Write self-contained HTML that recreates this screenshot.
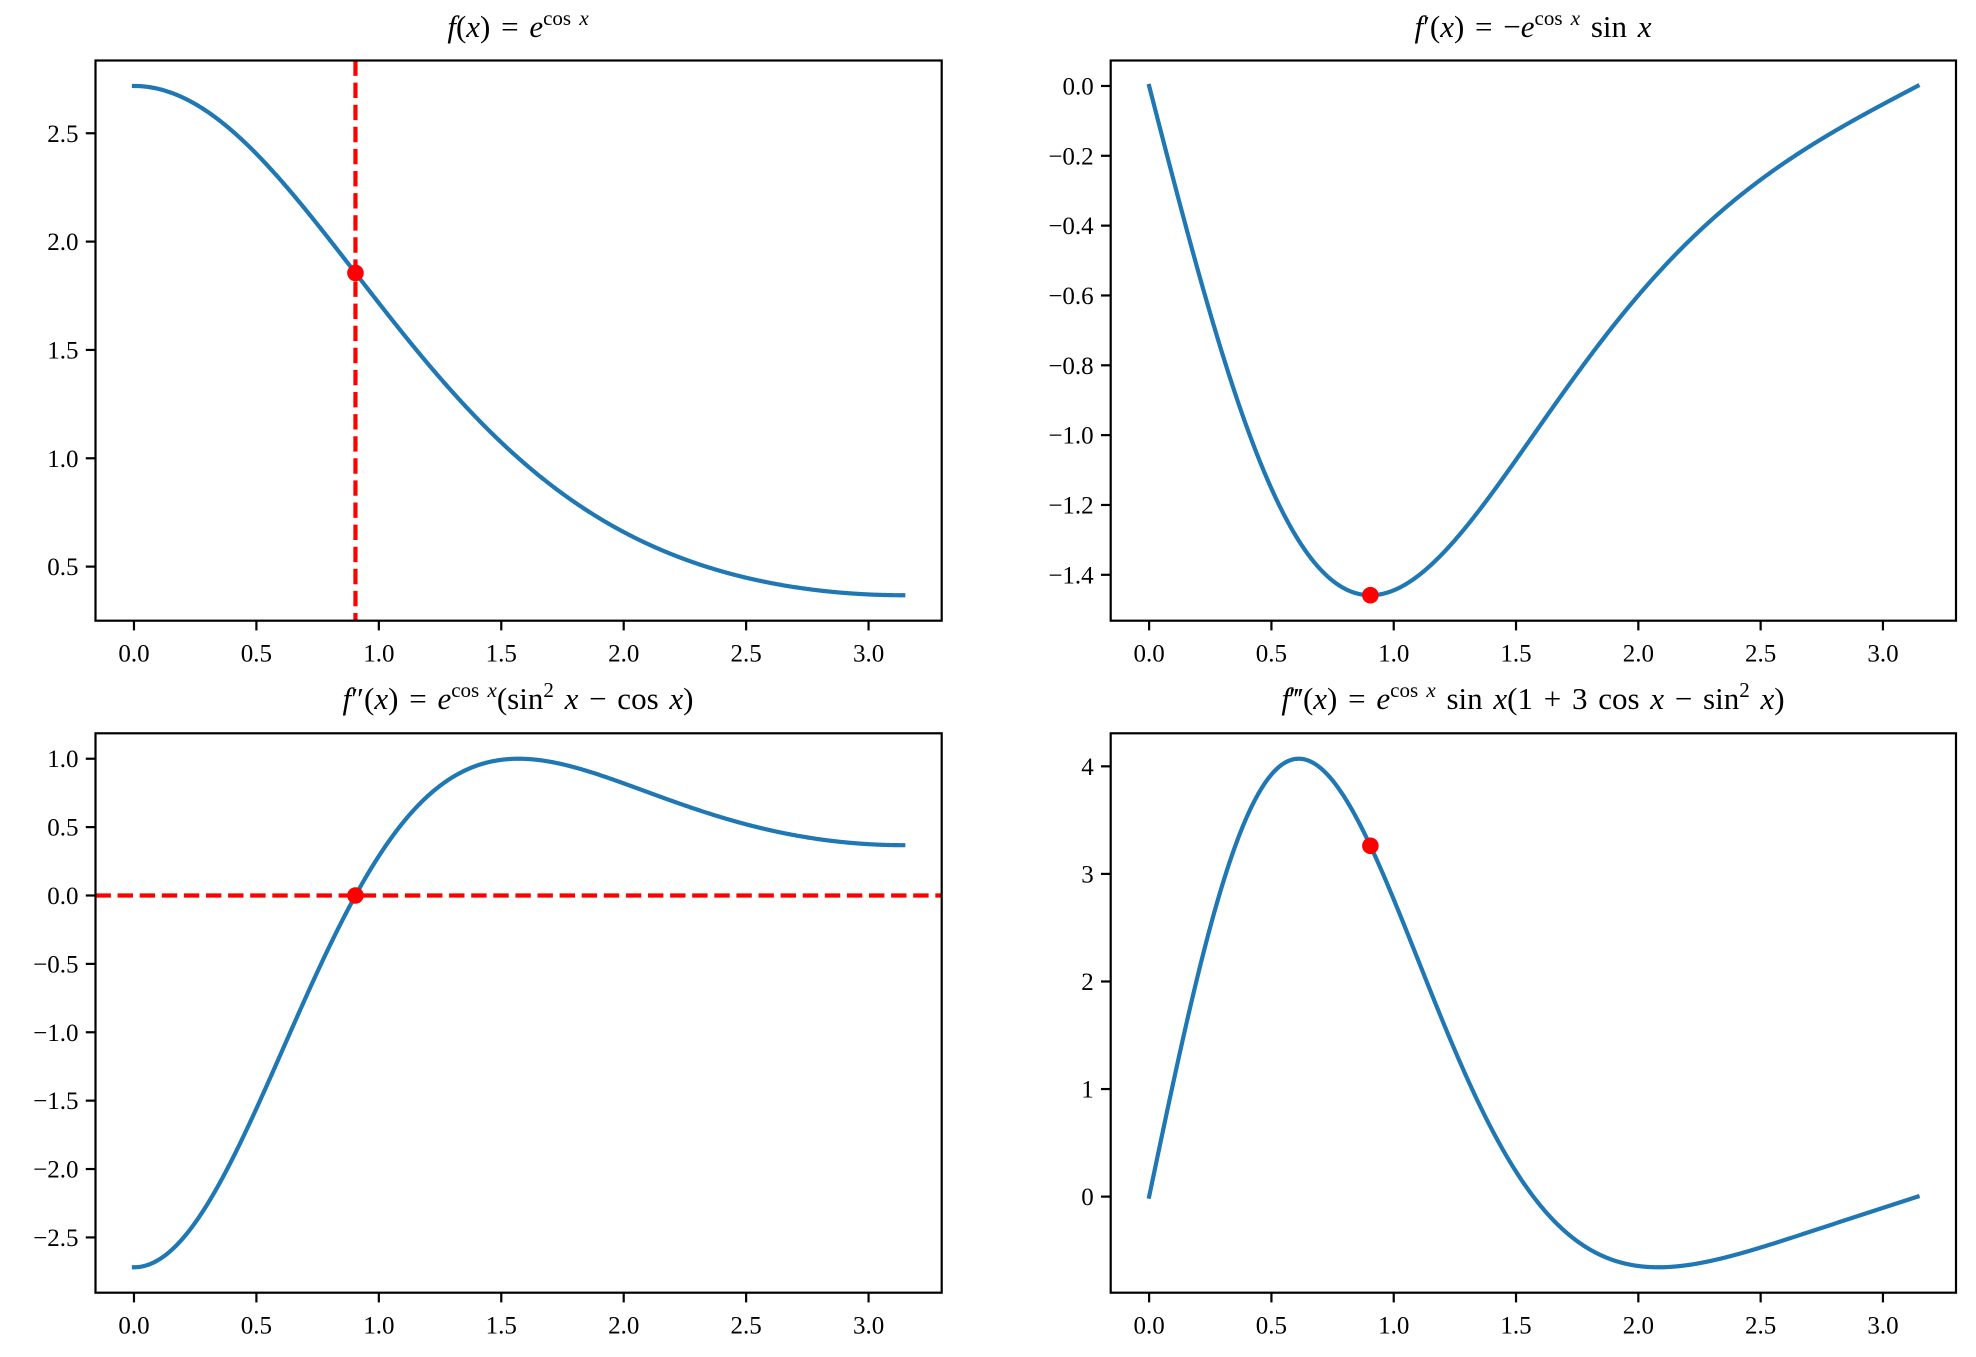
<!DOCTYPE html>
<html><head><meta charset="utf-8"><style>
html,body{margin:0;padding:0;background:#fff;}
svg{display:block;font-family:"Liberation Serif",serif;}
</style></head><body>
<svg id="s" width="1976" height="1357" xmlns="http://www.w3.org/2000/svg">
<rect width="1976" height="1357" fill="#fff"/>
<g font-size="31" text-anchor="middle" word-spacing="3">
<text x="518" y="37"><tspan font-style="italic">f</tspan>(<tspan font-style="italic">x</tspan>) = <tspan font-style="italic">e</tspan><tspan font-size="21" dy="-12">cos <tspan font-style="italic">x</tspan></tspan></text>
<text x="1533" y="37"><tspan font-style="italic">f</tspan>′(<tspan font-style="italic">x</tspan>) = −<tspan font-style="italic">e</tspan><tspan font-size="21" dy="-12">cos <tspan font-style="italic">x</tspan></tspan><tspan dy="12"> sin <tspan font-style="italic">x</tspan></tspan></text>
<text x="518" y="709"><tspan font-style="italic">f</tspan>″(<tspan font-style="italic">x</tspan>) = <tspan font-style="italic">e</tspan><tspan font-size="21" dy="-12">cos <tspan font-style="italic">x</tspan></tspan><tspan dy="12">(sin</tspan><tspan font-size="21" dy="-12">2</tspan><tspan dy="12"> <tspan font-style="italic">x</tspan> − cos <tspan font-style="italic">x</tspan>)</tspan></text>
<text x="1533" y="709"><tspan font-style="italic">f</tspan>‴(<tspan font-style="italic">x</tspan>) = <tspan font-style="italic">e</tspan><tspan font-size="21" dy="-12">cos <tspan font-style="italic">x</tspan></tspan><tspan dy="12"> sin <tspan font-style="italic">x</tspan>(1 + 3 cos <tspan font-style="italic">x</tspan> − sin</tspan><tspan font-size="21" dy="-12">2</tspan><tspan dy="12"> <tspan font-style="italic">x</tspan>)</tspan></text>
</g>
</svg>
<script>
(function(){
var s=document.getElementById('s'),NS="http://www.w3.org/2000/svg";
function el(t,a,txt){var e=document.createElementNS(NS,t);for(var k in a)e.setAttribute(k,a[k]);if(txt!=null)e.textContent=txt;s.appendChild(e);return e;}
var fs=[
 function(x){return Math.exp(Math.cos(x));},
 function(x){return -Math.exp(Math.cos(x))*Math.sin(x);},
 function(x){var s=Math.sin(x),c=Math.cos(x);return Math.exp(c)*(s*s-c);},
 function(x){var s=Math.sin(x),c=Math.cos(x);return Math.exp(c)*s*(1+3*c-s*s);}
];
var boxes=[[95.5,60.5,941.7,620.7],[1110.7,60.5,1956,620.7],[95.5,733.3,941.7,1292.7],[1110.7,733.3,1956,1292.7]];
var yt=[[0.5,1,1.5,2,2.5],[0,-0.2,-0.4,-0.6,-0.8,-1,-1.2,-1.4],[-2.5,-2,-1.5,-1,-0.5,0,0.5,1],[0,1,2,3,4]];
var dec=[1,1,1,0];
var xs=Math.acos((Math.sqrt(5)-1)/2);
var N=1000,PI=Math.PI;
for(var i=0;i<4;i++){
 var b=boxes[i],f=fs[i],pts=[],mn=1e9,mx=-1e9;
 for(var k=0;k<N;k++){var x=PI*k/(N-1),y=f(x);pts.push([x,y]);if(y<mn)mn=y;if(y>mx)mx=y;}
 var m=(mx-mn)*0.05,y0=mn-m,y1=mx+m,x0=-PI*0.05,x1=PI*1.05;
 var X=function(x){return b[0]+(x-x0)/(x1-x0)*(b[2]-b[0]);};
 var Y=function(y){return b[3]-(y-y0)/(y1-y0)*(b[3]-b[1]);};
 var d=pts.map(function(p,j){return (j?'L':'M')+X(p[0]).toFixed(2)+','+Y(p[1]).toFixed(2);}).join('');
 el('path',{d:d,fill:'none',stroke:'#1f77b4','stroke-width':4.2,'stroke-linejoin':'round','stroke-linecap':'square'});
 if(i==0) el('line',{x1:X(xs),x2:X(xs),y1:b[1],y2:b[3],stroke:'#ff0000','stroke-width':4.2,'stroke-dasharray':'15.4 6.7'});
 if(i==2) el('line',{x1:b[0],x2:b[2],y1:Y(0),y2:Y(0),stroke:'#ff0000','stroke-width':4.2,'stroke-dasharray':'15.4 6.7'});
 el('circle',{cx:X(xs),cy:Y(f(xs)),r:8.3,fill:'#ff0000'});
 el('rect',{x:b[0],y:b[1],width:b[2]-b[0],height:b[3]-b[1],fill:'none',stroke:'#000','stroke-width':2.2});
 for(var t=0;t<=3;t+=0.5){var px=X(t);
  el('line',{x1:px,x2:px,y1:b[3],y2:b[3]+9.7,stroke:'#000','stroke-width':2.2});
  el('text',{x:px,y:b[3]+41,'font-size':25,'text-anchor':'middle'},t.toFixed(1));}
 yt[i].forEach(function(v){var py=Y(v);
  el('line',{x1:b[0]-9.7,x2:b[0],y1:py,y2:py,stroke:'#000','stroke-width':2.2});
  var lab=v.toFixed(dec[i]);if(v<0)lab='−'+(-v).toFixed(dec[i]);
  el('text',{x:b[0]-17,y:py+8.5,'font-size':25,'text-anchor':'end'},lab);});
}
})();
</script>
</body></html>
